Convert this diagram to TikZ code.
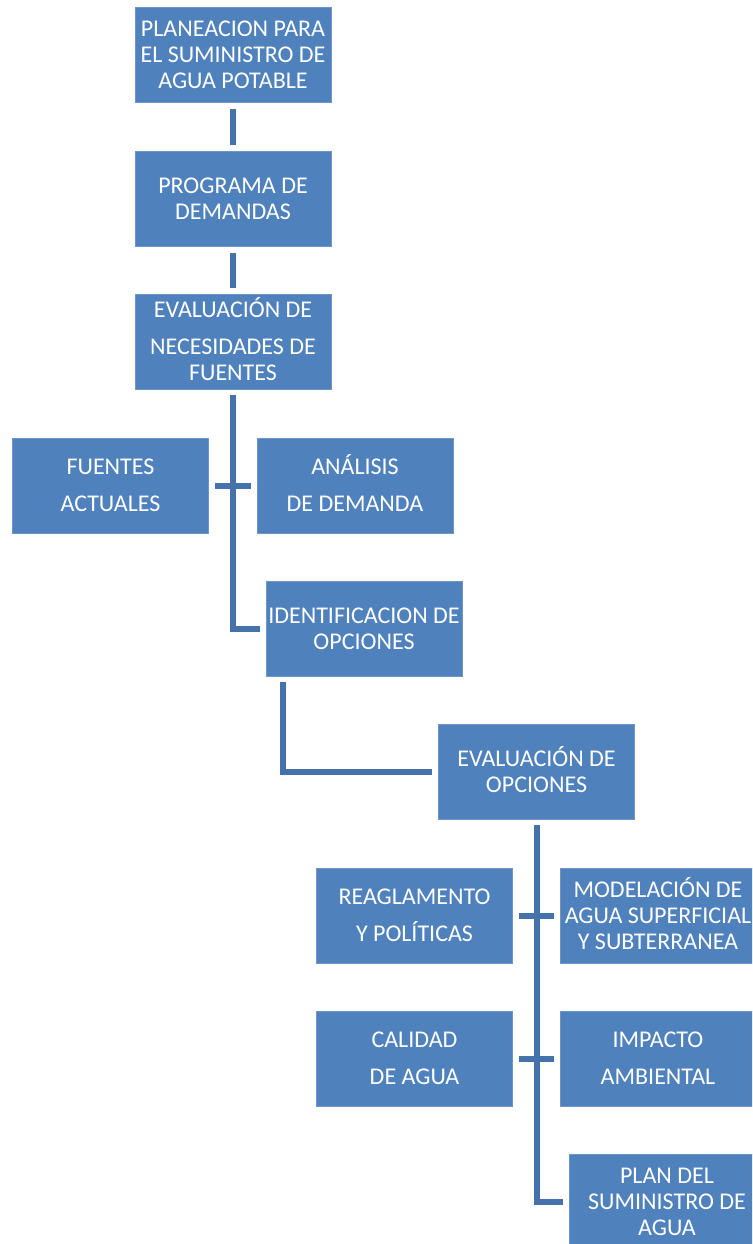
\documentclass[tikz,border=0pt]{standalone}
\usepackage{fontspec}
\setmainfont{Carlito}
\usetikzlibrary{positioning}

\definecolor{cajaazul}{HTML}{4F81BD}
\definecolor{bordeazul}{HTML}{6E95C8}
\definecolor{lineaazul}{HTML}{4672AC}

% la tilde no debe bajar la primera linea
\newcommand{\sintilde}[1]{\raisebox{0pt}[\fontcharht\font`\A]{#1}}

\tikzset{
  caja/.style={rectangle, fill=cajaazul, draw=bordeazul, line width=0.4pt,
    text=white, minimum width=98pt, minimum height=47.5pt, inner xsep=0pt,
    align=center, font=\fontsize{12pt}{13pt}\selectfont},
  conector/.style={draw=lineaazul, line width=3pt, shorten <=3pt, shorten >=3pt}
}

\begin{document}
\begin{tikzpicture}[x=0.5pt, y=-0.5pt]
    \useasboundingbox (0,0) rectangle (752,1244);
    \clip (0,0) rectangle (752,1244);
    % columna principal
    \node[caja] (planeacion) at (233,55) {PLANEACION PARA\\EL SUMINISTRO DE\\AGUA POTABLE};
    \node[caja] (programa) at (233,199) {PROGRAMA DE\\DEMANDAS};
    \node[caja] (necesidades) at (233,341.5) {\sintilde{EVALUACIÓN DE}\\[5.5pt]NECESIDADES DE\\FUENTES};
    \node[caja] (fuentes) at (110.5,485.5) {FUENTES\\[5.5pt]ACTUALES};
    \node[caja] (analisis) at (355,485.5) {\sintilde{ANÁLISIS}\\[5.5pt]DE DEMANDA};
    \node[caja] (identificacion) at (364,628.5) {IDENTIFICACION DE\\OPCIONES};
    \node[caja] (opciones) at (536.5,771.5) {\sintilde{EVALUACIÓN DE}\\OPCIONES};
    % ramas de la evaluacion de opciones
    \node[caja] (reglamento) at (414.5,915.5) {REAGLAMENTO\\[5.5pt]Y POLÍTICAS};
    \node[caja] (modelacion) at (658,915.5) {\sintilde{MODELACIÓN DE}\\AGUA SUPERFICIAL\\Y SUBTERRANEA};
    \node[caja] (calidad) at (414.5,1058.5) {CALIDAD\\[5.5pt]DE AGUA};
    \node[caja] (impacto) at (658,1058.5) {IMPACTO\\[5.5pt]AMBIENTAL};
    \node[caja] (plan) at (667,1201.5) {PLAN DEL\\SUMINISTRO DE\\AGUA};

    \draw[conector] (planeacion) -- (programa);
    \draw[conector] (programa) -- (necesidades);
    \draw[conector] (necesidades) |- (identificacion);
    \draw[conector] (fuentes) -- (analisis);
    \draw[conector] ([xshift=8.5pt]identificacion.south west) |- (opciones);
    \draw[conector] (opciones) |- (plan);
    \draw[conector] (reglamento) -- (modelacion);
    \draw[conector] (calidad) -- (impacto);
\end{tikzpicture}
\end{document}
